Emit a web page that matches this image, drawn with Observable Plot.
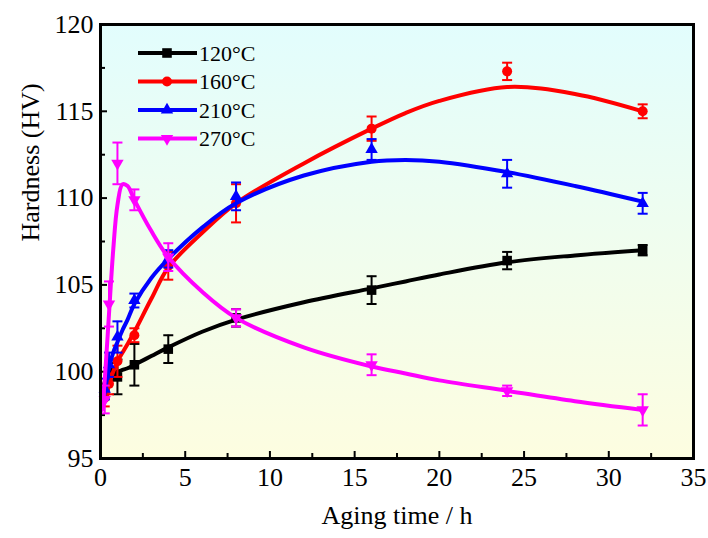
<!DOCTYPE html>
<html>
<head>
<meta charset="utf-8">
<script src="https://cdn.jsdelivr.net/npm/d3@7"></script>
<script src="https://cdn.jsdelivr.net/npm/@observablehq/plot@0.6"></script>
<style>
  html, body { margin: 0; padding: 0; background: #fff; }
  #chart { width: 708px; height: 538px; }
</style>
</head>
<body>
<div id="chart"></div>
<script>
// ---- Data ----
const seriesNames = ["120\u00b0C", "160\u00b0C", "210\u00b0C", "270\u00b0C"];
const seriesColors = ["#000000", "#ff0000", "#0000ff", "#ff00ff"];

// Measured points (aging time in h, hardness HV, error)
const t120 = [0.5, 1, 2, 4, 8, 16, 24, 32];
const v120 = [100.0, 99.7, 100.4, 101.3, 103.1, 104.7, 106.4, 107.0];
const e120 = [0.5, 1.0, 1.2, 0.8, 0.5, 0.8, 0.5, 0.3];

const t160 = [0.25, 0.5, 1, 2, 4, 8, 16, 24, 32];
const v160 = [98.5, 99.3, 100.6, 102.1, 106.1, 109.7, 114.0, 117.3, 115.0];
const e160 = [0.5, 0.6, 0.9, 0.4, 0.8, 1.1, 0.7, 0.5, 0.4];

const t210 = [0.25, 0.5, 1, 2, 4, 8, 16, 24, 32];
const v210 = [99.0, 100.4, 102.0, 104.1, 106.5, 110.1, 112.8, 111.4, 109.7];
const e210 = [0.6, 0.7, 0.9, 0.4, 0.5, 0.8, 0.6, 0.8, 0.6];

const t270 = [0.25, 0.5, 1, 2, 4, 8, 16, 24, 32];
const v270 = [98.4, 103.9, 112.0, 109.9, 106.6, 103.1, 100.4, 98.9, 97.8];
const e270 = [0.8, 1.3, 1.2, 0.6, 0.8, 0.5, 0.6, 0.3, 0.9];

// Fitted curves
const fitT   = [0.1, 0.25, 0.5, 0.75, 1, 1.3, 1.6, 2, 3, 4, 6, 8, 12, 16, 18, 20, 24, 28, 32];
const fit120 = [99.0, 99.4, 99.8, 99.9, 100.0, 100.1, 100.2, 100.4, 100.9, 101.4, 102.3, 103.0, 104.0, 104.8, 105.2, 105.6, 106.3, 106.7, 107.0];
const fit160 = [98.0, 98.5, 99.3, 100.0, 100.6, 101.1, 101.6, 102.3, 104.2, 106.0, 108.0, 109.7, 112.0, 114.0, 114.9, 115.6, 116.4, 116.0, 115.0];
const fit210 = [98.0, 98.8, 100.2, 101.1, 101.7, 102.4, 103.0, 103.9, 105.4, 106.5, 108.3, 109.7, 111.3, 112.1, 112.2, 112.1, 111.5, 110.7, 109.8];
const fit270 = [97.8, 99.5, 103.3, 107.0, 109.6, 110.8, 110.7, 109.9, 108.1, 106.6, 104.6, 103.1, 101.4, 100.3, 99.9, 99.5, 98.9, 98.3, 97.8];

const xTicks = [0, 5, 10, 15, 20, 25, 30, 35];
const xMinor = [2.5, 7.5, 12.5, 17.5, 22.5, 27.5, 32.5];
const yTicks = [95, 100, 105, 110, 115, 120];
const yMinor = [97.5, 102.5, 107.5, 112.5, 117.5];

const xLabel = "Aging time / h";
const yLabel = "Hardness (HV)";

// ---- Build tables ----
const pointSets = [[t120, v120, e120], [t160, v160, e160], [t210, v210, e210], [t270, v270, e270]];
const fits = [fit120, fit160, fit210, fit270];
const points = [];
pointSets.forEach(([t, v, e], i) => t.forEach((x, j) => points.push({s: i, x, y: v[j], e: e[j]})));
const curves = [];
fits.forEach((f, i) => fitT.forEach((x, j) => curves.push({s: i, x, y: f[j]})));

// ---- Symbols ----
const capSymbol = { draw(ctx, size) { const r = Math.sqrt(size / Math.PI); ctx.moveTo(-r, 0); ctx.lineTo(r, 0); } };
const triDown = { draw(ctx, size) {
  const s = Math.sqrt(size * 4 / Math.sqrt(3)), h = s * Math.sqrt(3) / 2;
  ctx.moveTo(0, 2 * h / 3); ctx.lineTo(-s / 2, -h / 3); ctx.lineTo(s / 2, -h / 3); ctx.closePath();
} };
const symbols = ["square", "circle", "triangle", triDown];
const radii = [5.4, 5, 4.6, 4.6];

const W = 708, H = 538, mL = 100, mR = 15, mT = 24, mB = 80;
const innerW = W - mL - mR, innerH = H - mT - mB;

const marks = [
  Plot.frame({fill: "url(#bgGrad)"}),
  Plot.tickY(yTicks, {y: d => d, stroke: "black", strokeWidth: 2, insetRight: innerW - 7}),
  Plot.tickY(yMinor, {y: d => d, stroke: "black", strokeWidth: 2, insetRight: innerW - 5}),
  Plot.tickX(xTicks, {x: d => d, stroke: "black", strokeWidth: 2, insetTop: innerH - 7}),
  Plot.tickX(xMinor, {x: d => d, stroke: "black", strokeWidth: 2, insetTop: innerH - 5}),
  Plot.axisY(yTicks, {tickSize: 0, tickPadding: 7, fontSize: 26, label: null}),
  Plot.axisX(xTicks, {tickSize: 0, tickPadding: 9, fontSize: 26, label: null}),
  Plot.text([yLabel], {text: d => d, frameAnchor: "left", dx: -70, rotate: -90, fontSize: 26}),
  Plot.text([xLabel], {text: d => d, frameAnchor: "bottom", dy: 65, fontSize: 26})
];
seriesNames.forEach((name, i) => {
  const c = seriesColors[i];
  marks.push(Plot.line(curves.filter(d => d.s === i), {x: "x", y: "y", stroke: c, strokeWidth: 4, curve: "catmull-rom"}));
  const pts = points.filter(d => d.s === i);
  marks.push(Plot.ruleX(pts, {x: "x", y1: d => d.y - d.e, y2: d => d.y + d.e, stroke: c, strokeWidth: 2}));
  marks.push(Plot.dot(pts, {x: "x", y: d => d.y - d.e, symbol: capSymbol, r: 5, stroke: c, strokeWidth: 2}));
  marks.push(Plot.dot(pts, {x: "x", y: d => d.y + d.e, symbol: capSymbol, r: 5, stroke: c, strokeWidth: 2}));
  marks.push(Plot.dot(pts, {x: "x", y: "y", symbol: symbols[i], r: radii[i], fill: c, stroke: "none"}));
});
marks.push(Plot.frame({stroke: "black", strokeWidth: 3}));

const svgEl = Plot.plot({
  width: W, height: H,
  marginLeft: mL, marginRight: mR, marginTop: mT, marginBottom: mB,
  x: {domain: [0, 35]},
  y: {domain: [95, 120]},
  style: {fontFamily: "'Liberation Serif', 'Times New Roman', serif", background: "white", color: "black", overflow: "visible"},
  marks
});

const svg = d3.select(svgEl);
const grad = svg.insert("defs", ":first-child").append("linearGradient")
  .attr("id", "bgGrad").attr("x1", 0).attr("y1", 0).attr("x2", 0).attr("y2", 1);
grad.append("stop").attr("offset", "0%").attr("stop-color", "#e2fdfd");
grad.append("stop").attr("offset", "100%").attr("stop-color", "#fdfde0");

// Legend inside the plot
const lg = svg.append("g")
  .attr("font-family", "'Liberation Serif', 'Times New Roman', serif")
  .attr("font-size", 22)
  .attr("text-anchor", "start");
const legendSymbols = [d3.symbolSquare, d3.symbolCircle, d3.symbolTriangle, triDown];
seriesNames.forEach((name, i) => {
  const y = 53 + i * 28.5;
  lg.append("line").attr("x1", 138).attr("x2", 197).attr("y1", y).attr("y2", y)
    .attr("stroke", seriesColors[i]).attr("stroke-width", 4);
  lg.append("path").attr("transform", `translate(167,${y})`)
    .attr("d", d3.symbol(legendSymbols[i], Math.PI * radii[i] * radii[i])())
    .attr("fill", seriesColors[i]);
  lg.append("text").attr("x", 199).attr("y", y).attr("dy", "0.35em")
    .attr("text-anchor", "start").attr("fill", "black").text(name);
});

document.getElementById("chart").appendChild(svgEl);
</script>
</body>
</html>
